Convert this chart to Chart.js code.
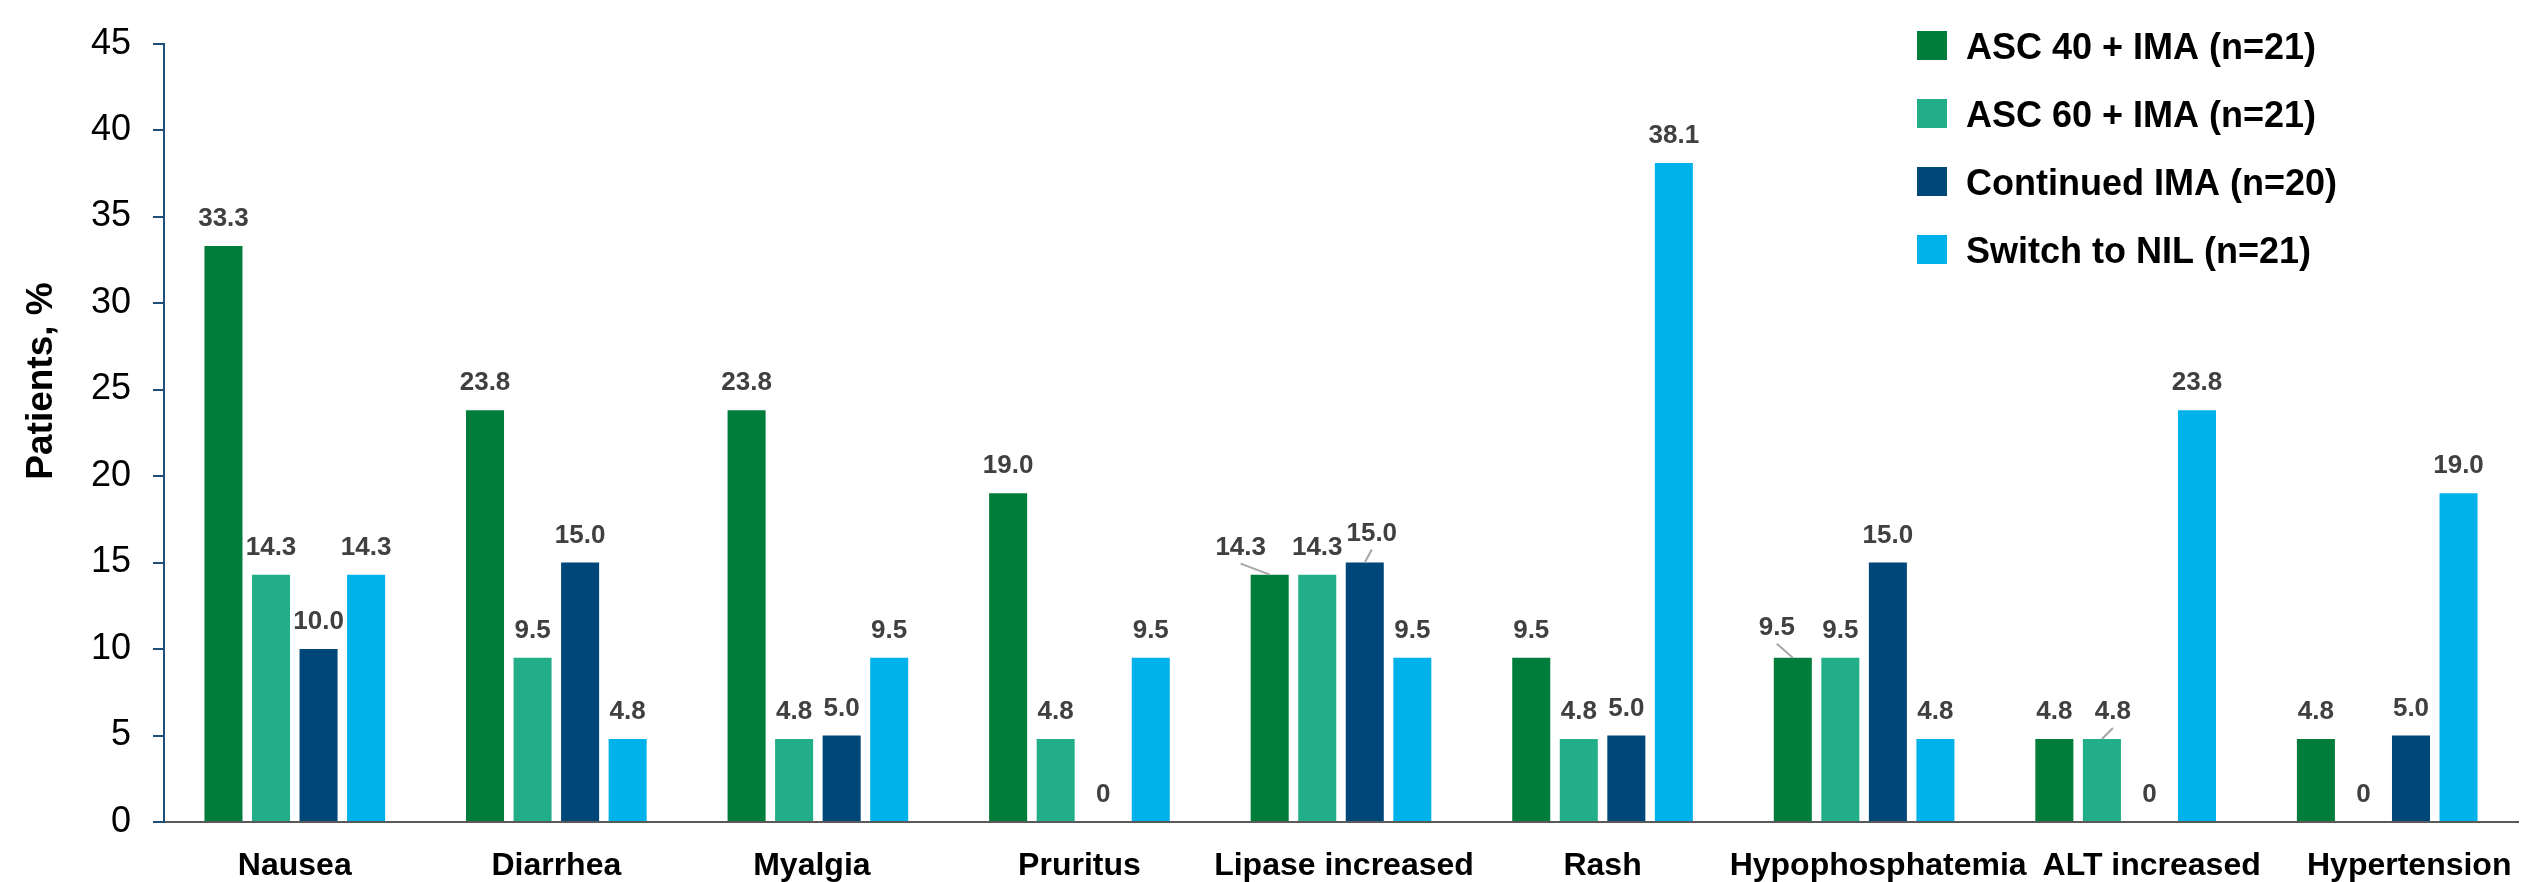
<!DOCTYPE html>
<html>
<head>
<meta charset="utf-8">
<script src="https://cdn.jsdelivr.net/npm/chart.js@4.4.1/dist/chart.umd.min.js"></script>
<style>
html,body{margin:0;padding:0;background:#ffffff;}
#wrap{width:2524px;height:882px;position:relative;}
</style>
</head>
<body>
<div id="wrap"><canvas id="c" width="2524" height="882"></canvas></div>
<script>
// ---- data ----
const categories = ["Nausea", "Diarrhea", "Myalgia", "Pruritus", "Lipase increased", "Rash", "Hypophosphatemia", "ALT increased", "Hypertension"];
const seriesNames = ["ASC 40 + IMA (n=21)", "ASC 60 + IMA (n=21)", "Continued IMA (n=20)", "Switch to NIL (n=21)"];
const asc40Ima = [33.3, 23.8, 23.8, 19.0, 14.3, 9.5, 9.5, 4.8, 4.8];
const asc60Ima = [14.3, 9.5, 4.8, 4.8, 14.3, 4.8, 9.5, 4.8, 0];
const continuedIma = [10.0, 15.0, 5.0, 0, 15.0, 5.0, 15.0, 0, 5.0];
const switchNil = [14.3, 4.8, 9.5, 9.5, 9.5, 38.1, 4.8, 23.8, 19.0];
const yTickValues = [0, 5, 10, 15, 20, 25, 30, 35, 40, 45];
const yTitle = "Patients, %";

// ---- styles ----
const seriesColors = ["#007D3A", "#23AE8A", "#004779", "#00B2EA"];
const FONT = "'Liberation Sans', Arial, Helvetica, sans-serif";
// horizontal nudges of category labels (px)
const xLabelShift = [0, 0, -6, 0, 3, 0, 14, 26, 22];
// label nudges (series index, category index, dx, dy) for labels with leader lines
const labelNudges = [
  { s: 0, c: 4, dx: -29, dy: 0 },
  { s: 2, c: 4, dx: 7, dy: -2 },
  { s: 0, c: 6, dx: -16, dy: -3 },
  { s: 1, c: 7, dx: 11, dy: 0 }
];

const dataLabelPlugin = {
  id: 'dataLabels',
  afterDatasetsDraw(chart) {
    const ctx = chart.ctx;
    ctx.save();
    ctx.font = "bold 26px " + FONT;
    ctx.textAlign = 'center';
    ctx.textBaseline = 'alphabetic';
    chart.data.datasets.forEach((ds, si) => {
      const meta = chart.getDatasetMeta(si);
      meta.data.forEach((el, ci) => {
        const v = ds.data[ci];
        const txt = v === 0 ? "0" : v.toFixed(1);
        const n = labelNudges.find(o => o.s === si && o.c === ci);
        const dx = n ? n.dx : 0, dy = n ? n.dy : 0;
        const base = el.y - 20 + dy;
        ctx.fillStyle = '#404040';
        ctx.fillText(txt, el.x + dx, base);
        if (n) {
          ctx.strokeStyle = '#A6A6A6';
          ctx.lineWidth = 2;
          ctx.beginPath();
          ctx.moveTo(el.x + dx, base + 9);
          ctx.lineTo(el.x, el.y);
          ctx.stroke();
        }
      });
    });
    ctx.restore();
  }
};

const xLabelPlugin = {
  id: 'xLabels',
  afterDraw(chart) {
    const ctx = chart.ctx;
    const xs = chart.scales.x;
    ctx.save();
    ctx.font = "bold 32px " + FONT;
    ctx.fillStyle = '#000000';
    ctx.textAlign = 'center';
    ctx.textBaseline = 'alphabetic';
    chart.data.labels.forEach((lab, i) => {
      ctx.fillText(lab, xs.getPixelForValue(i) + xLabelShift[i], 875);
    });
    ctx.restore();
  }
};

const legendPlugin = {
  id: 'customLegend',
  afterDraw(chart) {
    const ctx = chart.ctx;
    ctx.save();
    ctx.font = "bold 36px " + FONT;
    ctx.textAlign = 'left';
    ctx.textBaseline = 'alphabetic';
    chart.data.datasets.forEach((ds, i) => {
      const top = 31 + i * 68;
      ctx.fillStyle = ds.backgroundColor;
      ctx.fillRect(1917, top, 30, 29);
      ctx.fillStyle = '#000000';
      ctx.fillText(ds.label, 1966, top + 28);
    });
    ctx.restore();
  }
};

const yTitlePlugin = {
  id: 'yTitle',
  afterDraw(chart) {
    const ctx = chart.ctx;
    ctx.save();
    ctx.translate(42, 381);
    ctx.rotate(-Math.PI / 2);
    ctx.font = "bold 37px " + FONT;
    ctx.fillStyle = '#000000';
    ctx.textAlign = 'center';
    ctx.textBaseline = 'middle';
    ctx.fillText(yTitle, 0, 0);
    ctx.restore();
  }
};

const seriesValues = [asc40Ima, asc60Ima, continuedIma, switchNil];

new Chart(document.getElementById('c'), {
  type: 'bar',
  data: {
    labels: categories,
    datasets: seriesNames.map((name, i) => ({
      label: name,
      data: seriesValues[i],
      backgroundColor: seriesColors[i],
      borderWidth: 0,
      categoryPercentage: 0.727,
      barPercentage: 0.8
    }))
  },
  options: {
    responsive: false,
    animation: false,
    devicePixelRatio: 1,
    layout: { padding: { top: 23, right: 6, bottom: 0, left: 0 } },
    plugins: {
      legend: { display: false },
      tooltip: { enabled: false }
    },
    scales: {
      x: {
        grid: { display: false, drawTicks: false },
        border: { display: true, color: '#595959', width: 2 },
        ticks: { display: false },
        afterFit(scale) { scale.height = 60; }
      },
      y: {
        min: 0, max: 45,
        grid: { drawOnChartArea: false, drawTicks: true, tickLength: 11, color: '#1F4E79', lineWidth: 2 },
        border: { display: true, color: '#1F4E79', width: 2 },
        ticks: {
          color: '#000000',
          font: { family: FONT, size: 36, weight: 'normal' },
          padding: 22,
          stepSize: 5
        },
        afterBuildTicks(scale) { scale.ticks = yTickValues.map(v => ({ value: v })); },
        afterFit(scale) { scale.width = 164; }
      }
    }
  },
  plugins: [dataLabelPlugin, xLabelPlugin, legendPlugin, yTitlePlugin]
});
</script>
</body>
</html>
